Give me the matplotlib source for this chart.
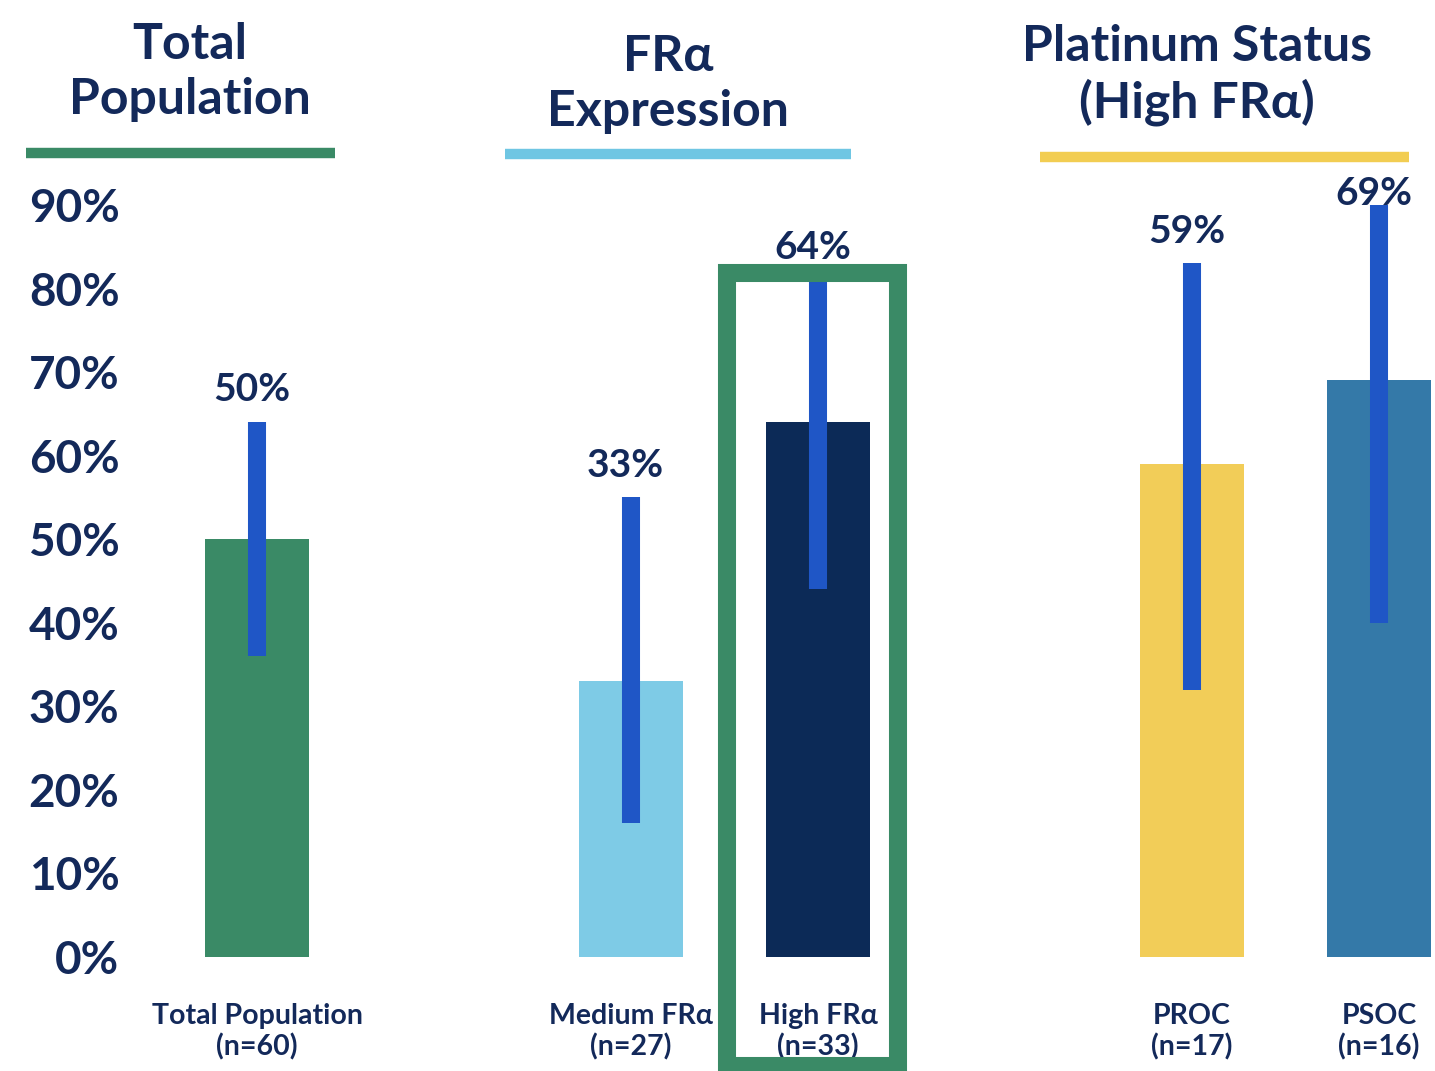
import matplotlib.pyplot as plt
from matplotlib.patches import Rectangle

plt.rcParams['font.family'] = ['Lato', 'DejaVu Sans']
plt.rcParams['font.weight'] = 'bold'

# response rates with 95% CI
groups = ['Total Population\n(n=60)', 'Medium FRα\n(n=27)', 'High FRα\n(n=33)',
          'PROC\n(n=17)', 'PSOC\n(n=16)']
xpos = [0, 2, 3, 5, 6]
rates = [0.50, 0.33, 0.64, 0.59, 0.69]
ci_low = [0.36, 0.16, 0.44, 0.32, 0.40]
ci_high = [0.64, 0.55, 0.81, 0.83, 0.90]
bar_colors = ['#3a8a66', '#7ecbe6', '#0c2a57', '#f2cd58', '#3479a8']

navy = '#13295a'
W, H = 1435, 1071
fig = plt.figure(figsize=(W / 100, H / 100), dpi=100)
ax = fig.add_axes([150 / W, (H - 957) / H, (W - 150) / W, 835.6 / H])
ax.set_xlim((150 - 257) / 187, (W - 257) / 187)
ax.set_ylim(0, 1.0)

ax.bar(xpos, rates, width=0.556, color=bar_colors, zorder=2)
err = ax.vlines(xpos, ci_low, ci_high, colors='#1f56c6', linewidth=13, zorder=4)
err.set_capstyle('butt')

for x, r, hi in zip(xpos, rates, ci_high):
    y = min(hi + 0.025, 0.9)
    ax.text(x - 0.03, y, f'{r:.0%}', ha='center', va='baseline',
            fontsize=28, color=navy, zorder=3)

# highlight box around high FRa
ax.add_patch(Rectangle((2.513, -0.130), 3.428 - 2.513, 0.8186 + 0.130,
                       fill=False, edgecolor='#3a8a66', linewidth=13,
                       clip_on=False, zorder=5))

ticks = [0, 0.1, 0.2, 0.3, 0.4, 0.5, 0.6, 0.7, 0.8, 0.9]
ax.set_yticks(ticks)
ax.set_yticklabels([f'{t:.0%}' for t in ticks], fontsize=33, color=navy)
ax.set_xticks(xpos)
ax.set_xticklabels(groups, fontsize=20.5, color=navy, linespacing=1.2)
ax.tick_params(axis='y', length=0, pad=22)
ax.tick_params(axis='x', length=0, pad=33)
ax.get_xticklabels()[0].set_x(-0.07)
for s in ax.spines.values():
    s.set_visible(False)

# section headers with coloured underlines
headers = [('Total\nPopulation', 190, 72, 26, 335, 153, '#3a8a66'),
           ('FRα\nExpression', 668, 84, 505, 851, 154, '#6fc6e3'),
           ('Platinum Status\n(High FRα)', 1197, 75, 1040, 1409, 157, '#f2cd52')]
for txt, cx, cy, x0, x1, ly, c in headers:
    fig.text(cx / W, 1 - cy / H, txt, ha='center', va='center', fontsize=36,
             color=navy, linespacing=1.25)
    fig.add_artist(plt.Line2D([x0 / W, x1 / W], [1 - ly / H, 1 - ly / H],
                              color=c, linewidth=7.5, solid_capstyle='butt'))

fig.savefig('out.png', dpi=100, facecolor='white')
